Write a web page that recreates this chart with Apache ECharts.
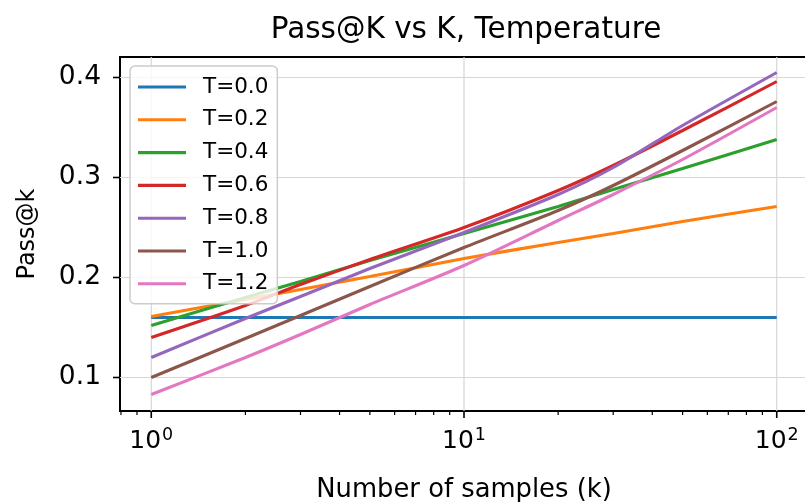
<!DOCTYPE html>
<html><head><meta charset="utf-8">
<script src="https://cdn.jsdelivr.net/npm/echarts@6/dist/echarts.min.js"></script>
<style>html,body{margin:0;padding:0;background:#fff}#c{width:805px;height:502px}</style>
</head><body><div id="c"></div>
<script>
// ---- data ----
const kValues = [1, 2, 3, 5, 10, 20, 30, 50, 100];
const seriesNames = ['T=0.0', 'T=0.2', 'T=0.4', 'T=0.6', 'T=0.8', 'T=1.0', 'T=1.2'];
const t00 = [0.160, 0.160, 0.160, 0.160, 0.160, 0.160, 0.160, 0.160, 0.160];
const t02 = [0.161, 0.178, 0.188, 0.201, 0.219, 0.235, 0.244, 0.256, 0.271];
const t04 = [0.152, 0.180, 0.196, 0.217, 0.244, 0.271, 0.288, 0.309, 0.338];
const t06 = [0.140, 0.172, 0.193, 0.218, 0.250, 0.287, 0.312, 0.347, 0.396];
const t08 = [0.120, 0.159, 0.181, 0.209, 0.245, 0.283, 0.310, 0.352, 0.405];
const t10 = [0.100, 0.139, 0.162, 0.191, 0.230, 0.267, 0.292, 0.327, 0.376];
const t12 = [0.083, 0.120, 0.143, 0.173, 0.212, 0.257, 0.283, 0.318, 0.370];
const yTicks = [0.1, 0.2, 0.3, 0.4];
const xMajorTicks = [1, 10, 100];
const xMinorTicks = [0.8, 0.9, 2, 3, 4, 5, 6, 7, 8, 9, 20, 30, 40, 50, 60, 70, 80, 90];
const xRange = [0.7943, 125.89];
const yRange = [0.0665, 0.4205];

const colors = ['#1f77b4', '#ff7f0e', '#2ca02c', '#d62728', '#9467bd', '#8c564b', '#e377c2'];
const allValues = [t00, t02, t04, t06, t08, t10, t12];
const FONT = 'DejaVu Sans';

const chart = echarts.init(document.getElementById('c'), null, {renderer: 'canvas'});

const lineSeries = seriesNames.map((name, i) => ({
  name: name,
  type: 'line',
  data: kValues.map((k, j) => [k, allValues[i][j]]),
  showSymbol: false,
  symbol: 'none',
  smooth: 0.25,
  lineStyle: {color: colors[i], width: 3.1},
  itemStyle: {color: colors[i]},
  z: 3,
  silent: true
}));

function lineEl(p1, p2, stroke, w) {
  return {type: 'line', shape: {x1: p1[0], y1: p1[1], x2: p2[0], y2: p2[1]},
          style: {stroke: stroke, lineWidth: w}};
}

const gridSeries = [
  { // horizontal grid lines
    type: 'custom', silent: true, z: 1, clip: false,
    data: yTicks.map(v => [xRange[0], v]),
    renderItem: (params, api) => {
      const v = api.value(1);
      return lineEl(api.coord([xRange[0], v]), api.coord([xRange[1], v]), '#d6d6d6', 1.2);
    }
  },
  { // vertical grid lines
    type: 'custom', silent: true, z: 1, clip: false,
    data: xMajorTicks.map(v => [v, yRange[0]]),
    renderItem: (params, api) => {
      const v = api.value(0);
      return lineEl(api.coord([v, yRange[0]]), api.coord([v, yRange[1]]), '#d6d6d6', 1.2);
    }
  },
  { // x major ticks
    type: 'custom', silent: true, z: 5, clip: false,
    data: xMajorTicks.map(v => [v, yRange[0]]),
    renderItem: (params, api) => {
      const p = api.coord([api.value(0), yRange[0]]);
      return lineEl([p[0], p[1]], [p[0], p[1] + 7], '#000', 1.6);
    }
  },
  { // x minor ticks
    type: 'custom', silent: true, z: 5, clip: false,
    data: xMinorTicks.map(v => [v, yRange[0]]),
    renderItem: (params, api) => {
      const p = api.coord([api.value(0), yRange[0]]);
      return lineEl([p[0], p[1]], [p[0], p[1] + 4], '#000', 1.2);
    }
  },
  { // y ticks
    type: 'custom', silent: true, z: 5, clip: false,
    data: yTicks.map(v => [xRange[0], v]),
    renderItem: (params, api) => {
      const p = api.coord([xRange[0], api.value(1)]);
      return lineEl([p[0], p[1]], [p[0] - 7, p[1]], '#000', 1.6);
    }
  }
];

const option = {
  animation: false,
  backgroundColor: '#fff',
  title: {
    text: 'Pass@K vs K, Temperature',
    left: 461, top: 10, textAlign: 'center',
    textStyle: {fontFamily: FONT, fontSize: 29.5, fontWeight: 'normal', color: '#000'}
  },
  grid: {left: 120, top: 57, width: 688, height: 354, show: true,
         borderColor: '#000', borderWidth: 2, backgroundColor: 'transparent',
         containLabel: false, outerBoundsMode: 'none'},
  legend: {
    orient: 'vertical', left: 130, top: 66,
    data: seriesNames,
    icon: 'rect',
    itemWidth: 48, itemHeight: 3.1, itemGap: 10.8,
    padding: [10, 9, 9, 8],
    backgroundColor: 'rgba(255,255,255,0.8)',
    borderColor: '#cccccc', borderWidth: 1.5, borderRadius: 5,
    textStyle: {fontFamily: FONT, fontSize: 21.5, color: '#000', padding: [0, 0, 0, 12]}
  },
  xAxis: {
    type: 'log', logBase: 10, min: xRange[0], max: xRange[1],
    name: 'Number of samples (k)', nameLocation: 'middle', nameGap: 66,
    nameTextStyle: {fontFamily: FONT, fontSize: 25.8, color: '#000'},
    axisLine: {show: false},
    axisTick: {show: false},
    minorTick: {show: false},
    splitLine: {show: false},
    axisLabel: {
      margin: 15, color: '#000', showMinLabel: true, showMaxLabel: true,
      formatter: (value) => {
        const l = Math.log10(value);
        const r = Math.round(l);
        if (Math.abs(l - r) < 1e-6) return '{b|10}{s|' + r + '}';
        return '';
      },
      rich: {
        b: {fontFamily: FONT, fontSize: 25, color: '#000'},
        s: {fontFamily: FONT, fontSize: 17.5, color: '#000', padding: [0, 0, 12, 1]}
      }
    }
  },
  yAxis: {
    type: 'value', min: yRange[0], max: yRange[1],
    name: 'Pass@k', nameLocation: 'middle', nameGap: 80,
    nameTextStyle: {fontFamily: FONT, fontSize: 24, color: '#000'},
    axisLine: {show: false},
    axisTick: {show: false},
    splitLine: {show: false},
    axisLabel: {
      margin: 19, color: '#000', fontFamily: FONT, fontSize: 26.5,
      customValues: yTicks,
      formatter: (v) => v.toFixed(1)
    }
  },
  series: gridSeries.concat(lineSeries)
};
chart.setOption(option);
</script></body></html>
